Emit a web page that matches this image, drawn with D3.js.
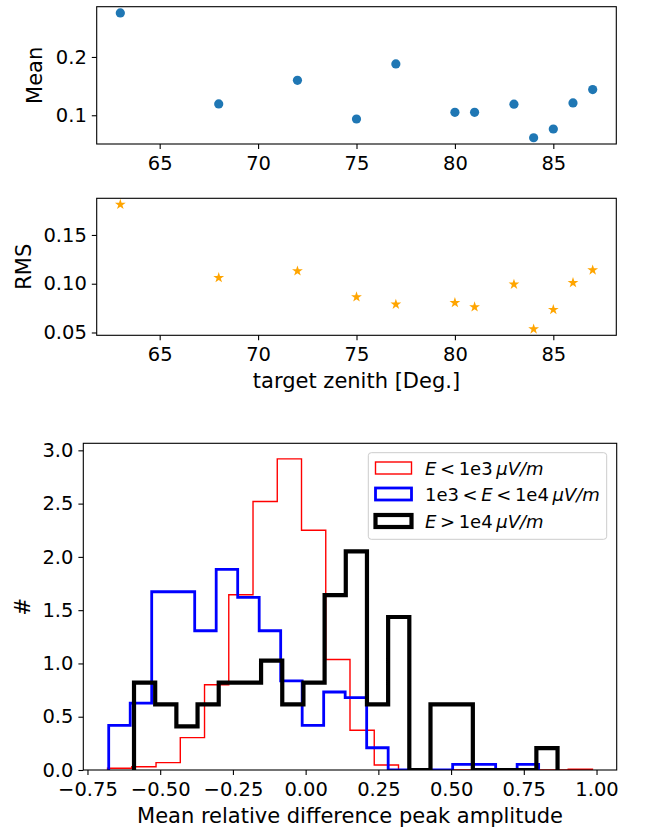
<!DOCTYPE html>
<html>
<head>
<meta charset="utf-8">
<script src="https://cdn.jsdelivr.net/npm/d3@7"></script>
<style>
  html, body { margin: 0; padding: 0; background: #fff; }
  svg { display: block; }
  text { font-family: "DejaVu Sans", sans-serif; fill: #000; }
</style>
</head>
<body>
<script>
// ---------------- data ----------------
const zenith   = [63, 68, 72, 75, 77, 80, 81, 83, 84, 85, 86, 87];
const meanVals = [0.2755, 0.1195, 0.160, 0.0936, 0.188, 0.105, 0.105, 0.119, 0.0614, 0.0764, 0.1212, 0.1441];
const rmsVals  = [0.1812, 0.1061, 0.113, 0.0864, 0.0789, 0.0805, 0.0761, 0.0994, 0.0535, 0.0734, 0.101, 0.114];

const zenithTicks = [65, 70, 75, 80, 85];
const meanTicks   = [0.1, 0.2];
const rmsTicks    = [0.05, 0.10, 0.15];

// histogram (density) series: first edge, last edge, bar heights (20 equal bins each)
const lowRange  = [-0.681, 0.986];
const lowHeights  = [0.016, 0.031, 0.069, 0.304, 0.80, 1.645, 2.52, 2.92, 2.25, 1.037, 0.373, 0.047, 0, 0, 0, 0, 0, 0, 0, 0.007];
const midRange  = [-0.677, 0.801];
const midHeights  = [0.418, 0.627, 1.673, 1.673, 1.307, 1.882, 1.620, 1.307, 0.836, 0.418, 0.732, 0.680, 0.209, 0, 0, 0, 0.052, 0.052, 0, 0.052];
const highRange = [-0.590, 0.866];
const highHeights = [0.820, 0.615, 0.410, 0.615, 0.820, 0.820, 1.026, 0.615, 0.820, 1.641, 2.051, 0.615, 1.436, 0, 0.615, 0.615, 0, 0, 0, 0.205];

const histXTicks = [-0.75, -0.5, -0.25, 0, 0.25, 0.5, 0.75, 1.0];
const histYTicks = [0, 0.5, 1.0, 1.5, 2.0, 2.5, 3.0];

const TS = "\u2009"; // thin space (math spacing)
const legendLabels = [
  [["E", true], [TS + "<" + TS + "1e3" + TS, false], ["\u03bcV/m", true]],
  [["1e3" + TS + "<" + TS, false], ["E", true], [TS + "<" + TS + "1e4" + TS, false], ["\u03bcV/m", true]],
  [["E", true], [TS + ">" + TS + "1e4" + TS, false], ["\u03bcV/m", true]]
];

// ---------------- setup ----------------
const W = 648, H = 830;
const FS = 19.5;   // tick labels
const LFS = 21;    // axis labels
const GFS = 18;    // legend
const TICK = 4.9;
const svg = d3.select("body").append("svg").attr("width", W).attr("height", H);

function pad(ext) { const r = ext[1] - ext[0]; return [ext[0] - 0.05 * r, ext[1] + 0.05 * r]; }

function frame(x0, x1, y0, y1) {
  svg.append("rect").attr("x", x0).attr("y", y0).attr("width", x1 - x0).attr("height", y1 - y0)
    .attr("fill", "none").attr("stroke", "#000").attr("stroke-width", 1.1);
}
function styleAxis(g) {
  g.select(".domain").remove();
  g.selectAll(".tick line").attr("stroke", "#000").attr("stroke-width", 1.1);
  g.selectAll(".tick text").attr("font-size", FS).attr("font-family", "DejaVu Sans").attr("fill", "#000");
}
function bottomAxis(scale, ticks, fmt, y) {
  const g = svg.append("g").attr("transform", `translate(0,${y})`)
    .call(d3.axisBottom(scale).tickValues(ticks).tickFormat(fmt).tickSize(TICK).tickPadding(7));
  styleAxis(g);
}
function leftAxis(scale, ticks, fmt, x) {
  const g = svg.append("g").attr("transform", `translate(${x},0)`)
    .call(d3.axisLeft(scale).tickValues(ticks).tickFormat(fmt).tickSize(TICK).tickPadding(5));
  styleAxis(g);
}
function yLabel(txt, x, y) {
  svg.append("text").attr("transform", `translate(${x},${y}) rotate(-90)`)
    .attr("text-anchor", "middle").attr("font-size", LFS).text(txt);
}

// ---------------- top panel: Mean ----------------
const P1 = { l: 96.7, r: 616.3, t: 6.7, b: 144 };
const xZ = d3.scaleLinear().domain(pad(d3.extent(zenith))).range([P1.l, P1.r]);
const yMean = d3.scaleLinear().domain(pad(d3.extent(meanVals))).range([P1.b, P1.t]);
frame(P1.l, P1.r, P1.t, P1.b);
svg.append("g").selectAll("circle").data(zenith).join("circle")
  .attr("cx", d => xZ(d)).attr("cy", (d, i) => yMean(meanVals[i])).attr("r", 4.6)
  .attr("fill", "#1f77b4");
bottomAxis(xZ, zenithTicks, d3.format("d"), P1.b);
leftAxis(yMean, meanTicks, d3.format(".1f"), P1.l);
yLabel("Mean", 42, (P1.t + P1.b) / 2);

// ---------------- middle panel: RMS ----------------
const P2 = { l: 96.7, r: 616.3, t: 198.3, b: 335.3 };
const xZ2 = d3.scaleLinear().domain(pad(d3.extent(zenith))).range([P2.l, P2.r]);
const yRms = d3.scaleLinear().domain(pad(d3.extent(rmsVals))).range([P2.b, P2.t]);
frame(P2.l, P2.r, P2.t, P2.b);
const star = d3.symbol().type(d3.symbolStar).size(36);
svg.append("g").selectAll("path").data(zenith).join("path")
  .attr("transform", (d, i) => `translate(${xZ2(d)},${yRms(rmsVals[i])})`)
  .attr("d", star).attr("fill", "#ffa500");
bottomAxis(xZ2, zenithTicks, d3.format("d"), P2.b);
leftAxis(yRms, rmsTicks, d3.format(".2f"), P2.l);
yLabel("RMS", 31, (P2.t + P2.b) / 2);
svg.append("text").attr("x", (P2.l + P2.r) / 2).attr("y", 388).attr("text-anchor", "middle")
  .attr("font-size", LFS).text("target zenith [Deg.]");

// ---------------- histogram ----------------
const P3 = { l: 83.3, r: 616.7, t: 443.3, b: 770 };
const series = [
  { range: lowRange,  h: lowHeights,  color: "#ff0000", w: 1.4 },
  { range: midRange,  h: midHeights,  color: "#0000ff", w: 2.8 },
  { range: highRange, h: highHeights, color: "#000000", w: 4.2 }
];
const xH = d3.scaleLinear()
  .domain(pad([d3.min(series, s => s.range[0]), d3.max(series, s => s.range[1])]))
  .range([P3.l, P3.r]);
const yH = d3.scaleLinear().domain([0, 1.05 * d3.max(series, s => d3.max(s.h))]).range([P3.b, P3.t]);

svg.append("clipPath").attr("id", "clipH").append("rect")
  .attr("x", P3.l).attr("y", P3.t).attr("width", P3.r - P3.l).attr("height", P3.b - P3.t);

const line = d3.line().x(d => xH(d[0])).y(d => yH(d[1]));
series.forEach(s => {
  const n = s.h.length, bw = (s.range[1] - s.range[0]) / n;
  const pts = [[s.range[0], 0]];
  s.h.forEach((v, i) => {
    pts.push([s.range[0] + i * bw, v]);
    pts.push([s.range[0] + (i + 1) * bw, v]);
  });
  pts.push([s.range[1], 0]);
  svg.append("path").attr("d", line(pts)).attr("fill", "none")
    .attr("stroke", s.color).attr("stroke-width", s.w).attr("stroke-linejoin", "miter")
    .attr("clip-path", "url(#clipH)");
});
frame(P3.l, P3.r, P3.t, P3.b);
bottomAxis(xH, histXTicks, d3.format(".2f"), P3.b);
leftAxis(yH, histYTicks, d3.format(".1f"), P3.l);
yLabel("#", 30, (P3.t + P3.b) / 2);
svg.append("text").attr("x", (P3.l + P3.r) / 2).attr("y", 823).attr("text-anchor", "middle")
  .attr("font-size", LFS).text("Mean relative difference peak amplitude");

// legend
const lg = svg.append("g");
lg.append("rect").attr("x", 368.3).attr("y", 452.7).attr("width", 238.4).attr("height", 86.6)
  .attr("rx", 3).attr("fill", "#fff").attr("fill-opacity", 0.8).attr("stroke", "#cccccc").attr("stroke-width", 1);
const rowY = [468, 494, 521];
series.forEach((s, i) => {
  lg.append("rect").attr("x", 375.5).attr("y", rowY[i] - 6).attr("width", 36).attr("height", 12)
    .attr("fill", "none").attr("stroke", s.color).attr("stroke-width", s.w);
  const t = lg.append("text").attr("x", 425).attr("y", rowY[i] + 6.5).attr("font-size", GFS);
  legendLabels[i].forEach(p => {
    t.append("tspan").attr("font-style", p[1] ? "italic" : "normal").text(p[0]);
  });
});
</script>
</body>
</html>
